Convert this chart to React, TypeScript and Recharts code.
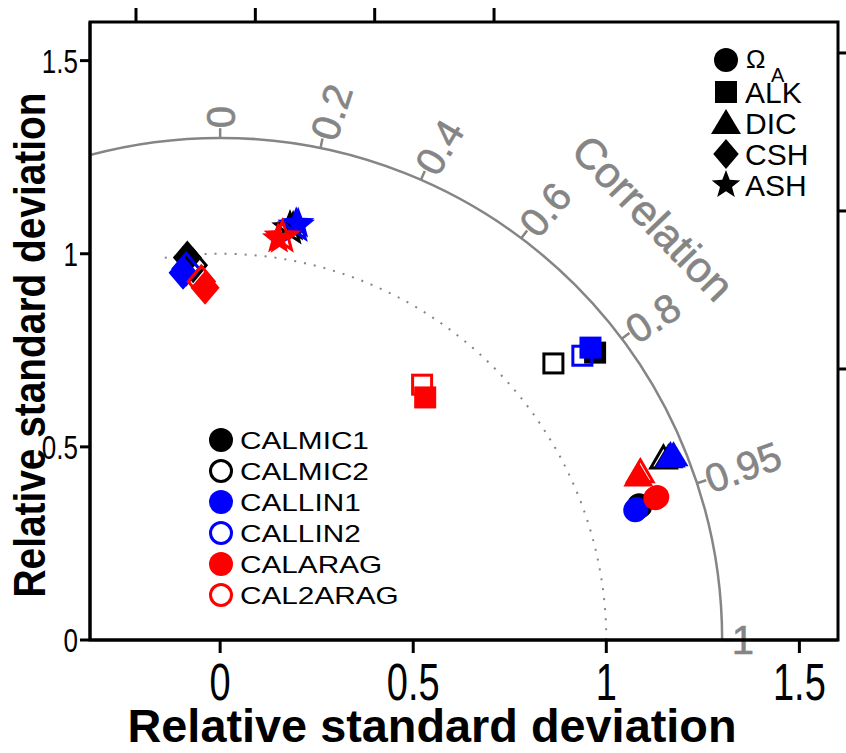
import React from 'react';
import { ScatterChart, Scatter, XAxis, YAxis, Customized } from 'recharts';

const CHART_W = 846;
const CHART_H = 753;
const PLOT_L = 90;
const PLOT_T = 22;
const PLOT_R = 838;
const PLOT_B = 640;
const X_MIN = -0.337;
const X_MAX = 1.6;
const Y_MIN = 0;
const Y_MAX = 1.6;
const TOP_MIN = -0.1927;
const TOP_MAX = 2.941;
const RIGHT_MIN = -0.3576;
const RIGHT_MAX = 1.598;

const FONT = '"Liberation Sans", Arial, Helvetica, sans-serif';
const GRAY = '#858585';

// variables (marker shapes)
const variableKeys = ['OMEGA_A', 'ALK', 'DIC', 'CSH', 'ASH'];
const variableLabels = ['Ω', 'ALK', 'DIC', 'CSH', 'ASH'];

// axis ticks
const xTicks = [0, 0.5, 1, 1.5];
const yTicks = [0, 0.5, 1, 1.5];
const topTicks = [0, 0.5, 1, 1.5];
const rightTicks = [0.5, 1, 1.5];

// correlation arc
const corrTicks = [0, 0.2, 0.4, 0.6, 0.8, 0.95, 1];
const corrTickLabels = ['0', '0.2', '0.4', '0.6', '0.8', '0.95', '1'];
const corrLabelAngles = [90, 72, 59, 50, 33, 20, 0];
const outerRadius = 1.3;
const refRadius = 1;
const refArcEndX = -0.148;

// models: x / y positions (relative standard deviation components) per variable
const calmic1X = [1.088, 0.971, 1.161, -0.085, 0.189];
const calmic1Y = [0.346, 0.744, 0.473, 0.990, 1.070];
const calmic2X = [1.085, 0.863, 1.148, -0.070, 0.181];
const calmic2Y = [0.349, 0.716, 0.470, 0.970, 1.065];
const callin1X = [1.075, 0.959, 1.174, -0.096, 0.202];
const callin1Y = [0.336, 0.757, 0.478, 0.951, 1.078];
const callin2X = [1.078, 0.938, 1.166, -0.088, 0.197];
const callin2Y = [0.339, 0.736, 0.475, 0.961, 1.072];
const calaragX = [1.132, 0.531, 1.083, -0.039, 0.150];
const calaragY = [0.370, 0.628, 0.426, 0.912, 1.039];
const cal2aragX = [1.127, 0.523, 1.088, -0.049, 0.161];
const cal2aragY = [0.367, 0.661, 0.434, 0.928, 1.044];

const modelNames = ['CALMIC1', 'CALMIC2', 'CALLIN1', 'CALLIN2', 'CALARAG', 'CAL2ARAG'];
const modelColors = ['#000000', '#000000', '#0000ff', '#0000ff', '#ff0000', '#ff0000'];
const modelFilled = [true, false, true, false, true, false];
const modelXs = [calmic1X, calmic2X, callin1X, callin2X, calaragX, cal2aragX];
const modelYs = [calmic1Y, calmic2Y, callin1Y, callin2Y, calaragY, cal2aragY];

const modelData = modelXs.map((xs, m) =>
  variableKeys.map((v, i) => ({ x: xs[i], y: modelYs[m][i], v }))
);

const kx = (PLOT_R - PLOT_L) / (X_MAX - X_MIN);
const ky = (PLOT_B - PLOT_T) / (Y_MAX - Y_MIN);
const sx = (v: number) => PLOT_L + (v - X_MIN) * kx;
const sy = (v: number) => PLOT_B - (v - Y_MIN) * ky;
const tx = (v: number) => PLOT_L + ((v - TOP_MIN) / (TOP_MAX - TOP_MIN)) * (PLOT_R - PLOT_L);
const ry = (v: number) => PLOT_B - ((v - RIGHT_MIN) / (RIGHT_MAX - RIGHT_MIN)) * (PLOT_B - PLOT_T);

function Marker({ cx, cy, kind, color, filled, small }: any) {
  const common: any = filled
    ? { fill: color, stroke: 'none' }
    : { fill: 'none', stroke: color, strokeWidth: 3 };
  const inset = filled ? 0 : 1.5;
  const k = small ? 0.88 : 1;
  switch (kind) {
    case 'OMEGA_A':
      return <circle cx={cx} cy={cy} r={12 - inset} {...common} />;
    case 'ALK': {
      const h = 11 - inset;
      return <rect x={cx - h} y={cy - h} width={2 * h} height={2 * h} {...common} />;
    }
    case 'DIC': {
      const top = 14 - inset;
      const bot = 11 - inset;
      const hb = 15 - inset * 1.5;
      return (
        <polygon
          points={`${cx},${cy - top} ${cx + hb},${cy + bot} ${cx - hb},${cy + bot}`}
          {...common}
        />
      );
    }
    case 'CSH': {
      const w = (14.5 - inset) * k;
      const h = (17 - inset) * k;
      return (
        <polygon
          points={`${cx},${cy - h} ${cx + w},${cy} ${cx},${cy + h} ${cx - w},${cy}`}
          {...common}
        />
      );
    }
    case 'ASH': {
      const R = (17 - inset) * k;
      const r = (7.2 - inset * 0.4) * k;
      const pts: string[] = [];
      for (let j = 0; j < 10; j++) {
        const ang = -Math.PI / 2 + (j * Math.PI) / 5;
        const rad = j % 2 === 0 ? R : r;
        pts.push(`${cx + rad * Math.cos(ang)},${cy + rad * Math.sin(ang)}`);
      }
      return <polygon points={pts.join(' ')} {...common} />;
    }
    default:
      return null;
  }
}

const XTick = (p: any) => (
  <text
    transform={`translate(${p.x},${PLOT_B + 60}) scale(1,1.35)`}
    textAnchor="middle"
    fontFamily={FONT}
    fontSize={38}
    fill="#000"
  >
    {String(p.payload.value)}
  </text>
);

const YTick = (p: any) => (
  <text
    transform={`translate(${PLOT_L - 12},${p.y + 12}) scale(1,1.3)`}
    textAnchor="end"
    fontFamily={FONT}
    fontSize={26}
    fill="#000"
  >
    {String(p.payload.value)}
  </text>
);

function Decor() {
  const oy = sy(0);
  const outerPath = `M ${sx(outerRadius)} ${oy} A ${outerRadius * kx} ${outerRadius * ky} 0 0 0 ${sx(-outerRadius)} ${oy}`;
  const refEndY = Math.sqrt(refRadius * refRadius - refArcEndX * refArcEndX);
  const refPath = `M ${sx(refRadius)} ${oy} A ${refRadius * kx} ${refRadius * ky} 0 0 0 ${sx(refArcEndX)} ${sy(refEndY)}`;
  return (
    <g>
      <defs>
        <clipPath id="plotClipArea">
          <rect x={PLOT_L} y={PLOT_T} width={PLOT_R - PLOT_L} height={PLOT_B - PLOT_T} />
        </clipPath>
      </defs>
      <g clipPath="url(#plotClipArea)">
        <path d={outerPath} fill="none" stroke={GRAY} strokeWidth={2.5} />
        <path d={refPath} fill="none" stroke={GRAY} strokeWidth={2} strokeDasharray="2 8" />
      </g>
      {corrTicks.map((c, i) => {
        const th = Math.acos(c);
        const x1 = sx(outerRadius * Math.cos(th));
        const y1 = sy(outerRadius * Math.sin(th));
        const x2 = sx(1.325 * Math.cos(th));
        const y2 = sy(1.325 * Math.sin(th));
        return (
          <g key={i}>
            <line x1={x1} y1={y1} x2={x2} y2={y2} stroke={GRAY} strokeWidth={2.5} />
            <text
              x={0}
              y={0}
              dy="0.36em"
              transform={`translate(${x2},${y2}) rotate(${-corrLabelAngles[i]})`}
              textAnchor="start"
              fontFamily={FONT}
              fontSize={40}
              fill={GRAY}
              stroke={GRAY}
              strokeWidth={0.6}
            >
              {corrTickLabels[i]}
            </text>
          </g>
        );
      })}
      <text
        transform={`translate(653,218) rotate(46)`}
        textAnchor="middle"
        dominantBaseline="central"
        fontFamily={FONT}
        fontSize={43}
        fill={GRAY}
        stroke={GRAY}
        strokeWidth={0.6}
      >
        Correlation
      </text>
      {/* plot frame */}
      <rect
        x={PLOT_L}
        y={PLOT_T}
        width={PLOT_R - PLOT_L}
        height={PLOT_B - PLOT_T}
        fill="none"
        stroke="#000"
        strokeWidth={3}
      />
      {/* secondary (unlabelled) top and right axis ticks */}
      {topTicks.map((v) => (
        <line key={`t${v}`} x1={tx(v)} y1={PLOT_T} x2={tx(v)} y2={PLOT_T - 14} stroke="#000" strokeWidth={3} />
      ))}
      {rightTicks.map((v) => (
        <line key={`r${v}`} x1={PLOT_R} y1={ry(v)} x2={PLOT_R + 9} y2={ry(v)} stroke="#000" strokeWidth={3} />
      ))}
      {/* axis titles */}
      <text
        x={432}
        y={742}
        textAnchor="middle"
        fontFamily={FONT}
        fontWeight="bold"
        fontSize={47}
        textLength={609}
        lengthAdjust="spacingAndGlyphs"
        fill="#000"
      >
        Relative standard deviation
      </text>
      <text
        transform="translate(45,345) rotate(-90)"
        textAnchor="middle"
        fontFamily={FONT}
        fontWeight="bold"
        fontSize={45}
        textLength={505}
        lengthAdjust="spacingAndGlyphs"
        fill="#000"
      >
        Relative standard deviation
      </text>
      {/* shape legend */}
      {variableKeys.map((k, i) => {
        const y = [60, 92, 123, 154, 185][i];
        return (
          <g key={k}>
            <Marker cx={726} cy={y} kind={k} color="#000" filled small />
            {k === 'OMEGA_A' ? (
              <g>
                <text x={746} y={68} fontFamily={FONT} fontSize={26} fill="#000">
                  {variableLabels[i]}
                </text>
                <text x={771} y={82} fontFamily={FONT} fontSize={20} fill="#000">
                  A
                </text>
              </g>
            ) : (
              <text x={745} y={y + 11} fontFamily={FONT} fontSize={30} fill="#000">
                {variableLabels[i]}
              </text>
            )}
          </g>
        );
      })}
      {/* model legend */}
      {modelNames.map((n, i) => {
        const y = 440 + i * 31;
        return (
          <g key={n}>
            <Marker cx={221} cy={y} kind="OMEGA_A" color={modelColors[i]} filled={modelFilled[i]} />
            <text
              transform={`translate(240,${y + 8.5}) scale(1.24,1)`}
              fontFamily={FONT}
              fontSize={24}
              fill="#000"
            >
              {n}
            </text>
          </g>
        );
      })}
    </g>
  );
}

export default function App() {
  return (
    <div style={{ position: 'absolute', left: 0, top: 0, background: '#fff' }}>
      <ScatterChart
        width={CHART_W}
        height={CHART_H}
        margin={{ top: PLOT_T, right: CHART_W - PLOT_R, bottom: 0, left: 0 }}
      >
        <XAxis
          xAxisId="main"
          type="number"
          dataKey="x"
          domain={[X_MIN, X_MAX]}
          ticks={xTicks}
          allowDataOverflow
          height={CHART_H - PLOT_B}
          tickSize={13}
          tick={<XTick />}
          axisLine={{ stroke: '#000', strokeWidth: 3 }}
          tickLine={{ stroke: '#000', strokeWidth: 3 }}
        />
        <YAxis
          yAxisId="main"
          type="number"
          dataKey="y"
          domain={[Y_MIN, Y_MAX]}
          ticks={yTicks}
          allowDataOverflow
          width={PLOT_L}
          tickSize={10}
          tick={<YTick />}
          axisLine={{ stroke: '#000', strokeWidth: 3 }}
          tickLine={{ stroke: '#000', strokeWidth: 3 }}
        />
        <Customized component={<Decor />} />
        {modelData.map((data, m) => (
          <Scatter
            key={modelNames[m]}
            name={modelNames[m]}
            xAxisId="main"
            yAxisId="main"
            data={data}
            isAnimationActive={false}
            shape={(p: any) => (
              <Marker
                cx={p.cx}
                cy={p.cy}
                kind={p.payload.v}
                color={modelColors[m]}
                filled={modelFilled[m]}
              />
            )}
          />
        ))}
      </ScatterChart>
    </div>
  );
}
